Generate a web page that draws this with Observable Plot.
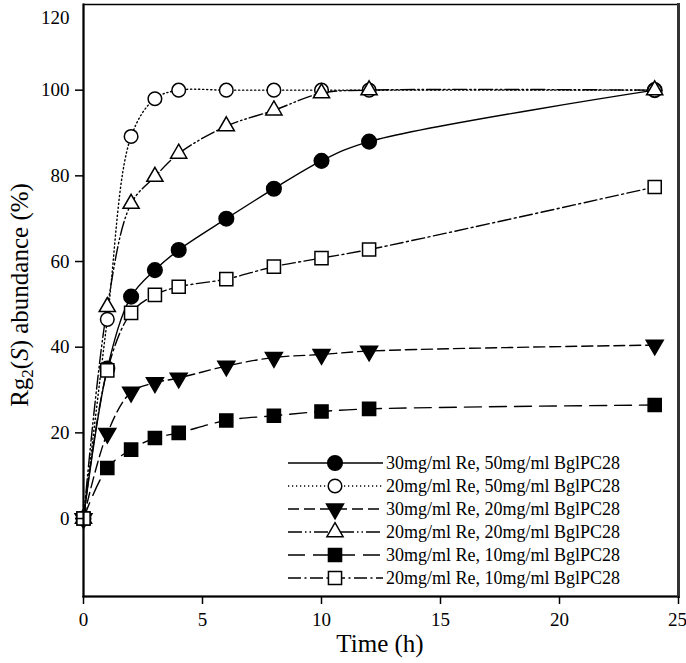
<!DOCTYPE html>
<html>
<head>
<meta charset="utf-8">
<script src="https://cdn.jsdelivr.net/npm/d3@7"></script>
<script src="https://cdn.jsdelivr.net/npm/@observablehq/plot@0.6"></script>
<style>
  html, body { margin: 0; padding: 0; background: white; }
  #chart { position: relative; width: 686px; height: 663px; }
  #chart svg, #chart svg text { font-family: "Liberation Serif", "Times New Roman", serif !important; }
</style>
</head>
<body>
<div id="chart"></div>
<script>
// ---- data ----
const times = [0, 1, 2, 3, 4, 6, 8, 10, 12, 24];
const seriesNames = [
  "30mg/ml Re, 50mg/ml BglPC28",
  "20mg/ml Re, 50mg/ml BglPC28",
  "30mg/ml Re, 20mg/ml BglPC28",
  "20mg/ml Re, 20mg/ml BglPC28",
  "30mg/ml Re, 10mg/ml BglPC28",
  "20mg/ml Re, 10mg/ml BglPC28"
];
const re30_enz50 = [0, 35, 51.8, 58, 62.7, 70, 77, 83.5, 88, 100];
const re20_enz50 = [0, 46.5, 89.2, 98, 100, 100, 100, 100, 100, 100];
const re30_enz20 = [0, 19.9, 29.5, 31.7, 32.8, 35.6, 37.6, 38.3, 39.1, 40.5];
const re20_enz20 = [0, 49.4, 73.5, 79.8, 85.2, 91.6, 95.3, 99.3, 100, 100];
const re30_enz10 = [0, 11.8, 16.1, 18.8, 20, 22.9, 24, 25, 25.6, 26.5];
const re20_enz10 = [0, 34.6, 48, 52.2, 54.1, 55.9, 58.8, 60.8, 62.8, 77.4];
const xTicks = [0, 5, 10, 15, 20, 25];
const yTicks = [0, 20, 40, 60, 80, 100];
const yTopTick = [120];

const allValues = [re30_enz50, re20_enz50, re30_enz20, re20_enz20, re30_enz10, re20_enz10];

// ---- styles ----
const FONT = "Liberation Serif";
const sqrt3 = Math.sqrt(3);
const triangleDown = {
  draw(context, size) {
    const y = -Math.sqrt(size / (sqrt3 * 3));
    context.moveTo(0, -y * 2);
    context.lineTo(-sqrt3 * y, y);
    context.lineTo(sqrt3 * y, y);
    context.closePath();
  }
};
const styles = [
  {symbol: "circle", fill: "black", r: 7.3, dash: null},
  {symbol: "circle", fill: "white", r: 6.8, dash: "1.2,2.8"},
  {symbol: triangleDown, fill: "black", r: 6.3, dash: "11,5"},
  {symbol: "triangle", fill: "white", r: 6.0, dash: "14,3,1.5,3,1.5,3"},
  {symbol: "square", fill: "black", r: 7.4, dash: "17,8"},
  {symbol: "square", fill: "white", r: 7.4, dash: "13,3.5,2,3.5"}
];

const rows = [];
allValues.forEach((vals, k) => times.forEach((t, i) => rows.push({t, v: vals[i], k})));

const lineMarks = styles.map((s, k) => Plot.line(rows.filter(d => d.k === k), {
  x: "t", y: "v", curve: "catmull-rom", stroke: "black", strokeWidth: 1.4,
  strokeDasharray: s.dash || undefined
}));
const dotMarks = styles.map((s, k) => Plot.dot(rows.filter(d => d.k === k), {
  x: "t", y: "v", symbol: s.symbol, r: s.r, fill: s.fill, stroke: "black", strokeWidth: 1.5
}));

const plot = Plot.plot({
  width: 686,
  height: 663,
  marginLeft: 83,
  marginRight: 8,
  marginTop: 4,
  marginBottom: 67,
  style: {fontFamily: FONT, fontSize: "19px", color: "black", background: "white"},
  x: {domain: [0, 25]},
  y: {domain: [-18.2, 120]},
  marks: [
    ...lineMarks,
    ...dotMarks,
    Plot.frame({stroke: "black", strokeWidth: 1.5}),
    Plot.frame({anchor: "left", stroke: "black", strokeWidth: 2}),
    Plot.frame({anchor: "bottom", stroke: "black", strokeWidth: 2}),
    Plot.frame({anchor: "right", stroke: "#333", strokeWidth: 3}),
    Plot.axisX({ticks: xTicks, tickSize: 8, tickPadding: 8, strokeWidth: 1.5, label: null, fontSize: 19, fontFamily: FONT, textStroke: "none"}),
    Plot.axisY({ticks: yTicks, tickSize: 8, tickPadding: 6, strokeWidth: 1.5, label: null, fontSize: 19, fontFamily: FONT}),
    Plot.axisY({ticks: yTopTick, tickSize: 0, tickPadding: 14, dy: 13, label: null, fontSize: 19, fontFamily: FONT})
  ]
});
document.getElementById("chart").appendChild(plot);

// keep the last x tick label ("25") inside the picture
d3.select(plot).selectAll("g[aria-label='x-axis tick label'] text")
  .filter(function() { return this.textContent === "25"; })
  .attr("text-anchor", "end")
  .attr("dx", 8.5);

// ---- titles and legend ----
const svg = d3.select(plot);
svg.append("text")
  .attr("x", 380).attr("y", 652)
  .attr("text-anchor", "middle")
  .attr("font-family", FONT)
  .attr("font-size", 25)
  .attr("fill", "black")
  .text("Time (h)");

const yt = svg.append("text")
  .attr("transform", "translate(28,295) rotate(-90)")
  .attr("text-anchor", "middle")
  .attr("font-family", FONT)
  .attr("font-size", 25)
  .attr("fill", "black");
yt.append("tspan").text("Rg");
yt.append("tspan").attr("font-size", 17).attr("dy", 5).text("2");
yt.append("tspan").attr("dy", -5).text("(");
yt.append("tspan").attr("font-style", "italic").text("S");
yt.append("tspan").text(") abundance (%)");

const leg = svg.append("g");
seriesNames.forEach((name, i) => {
  const s = styles[i];
  const y = 463 + i * 23;
  leg.append("line")
    .attr("x1", 288).attr("x2", 383).attr("y1", y).attr("y2", y)
    .attr("stroke", "black").attr("stroke-width", 1.4)
    .attr("stroke-dasharray", s.dash);
  const sym = typeof s.symbol === "string"
    ? {circle: d3.symbolCircle, square: d3.symbolSquare, triangle: d3.symbolTriangle}[s.symbol]
    : s.symbol;
  leg.append("path")
    .attr("transform", `translate(335,${y})`)
    .attr("d", d3.symbol(sym, Math.PI * s.r * s.r)())
    .attr("fill", s.fill).attr("stroke", "black").attr("stroke-width", 1.5);
  leg.append("text")
    .attr("x", 386).attr("y", y).attr("dy", "0.35em")
    .attr("text-anchor", "start")
    .attr("font-family", FONT)
    .attr("font-size", 18).attr("fill", "black")
    .text(name);
});
</script>
</body>
</html>
